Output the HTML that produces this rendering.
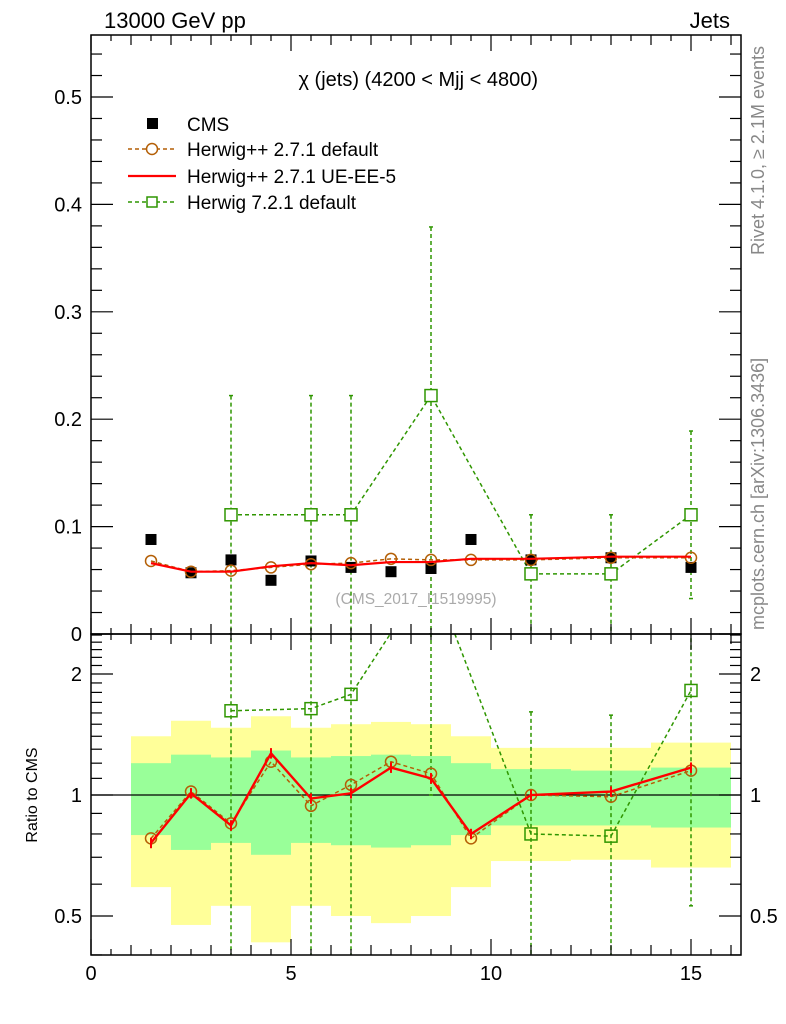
<!DOCTYPE html>
<html><head><meta charset="utf-8"><style>
body{margin:0;background:#fff}
svg{display:block;font-family:"Liberation Sans",sans-serif}
</style></head><body>
<svg id="c" width="786" height="1024" xmlns="http://www.w3.org/2000/svg">
<text x="104" y="28" font-size="22">13000 GeV pp</text>
<text x="730" y="28" font-size="22" text-anchor="end">Jets</text>
<text x="538" y="86" font-size="20" text-anchor="end">χ (jets) (4200 &lt; Mjj &lt; 4800)</text>
<text transform="translate(764,255) rotate(-90)" font-size="18" fill="#888">Rivet 4.1.0, ≥ 2.1M events</text>
<text transform="translate(764,630) rotate(-90)" font-size="18" fill="#888">mcplots.cern.ch [arXiv:1306.3436]</text>
<text x="416" y="604" font-size="15.5" fill="#aaa" text-anchor="middle">(CMS_2017_I1519995)</text>
<text transform="translate(37,795) rotate(-90)" font-size="16" text-anchor="middle">Ratio to CMS</text>
<g id="bands"></g><g id="grid"></g><g id="marks"></g><g id="axes"></g>
<g font-size="19">
<rect x="147" y="118" width="11" height="11" fill="#000"/>
<text x="187" y="131">CMS</text>
<line x1="128" y1="149" x2="176" y2="149" stroke="#b45f06" stroke-width="1.5" stroke-dasharray="4,3"/><circle cx="152" cy="149" r="5.5" fill="#fff" stroke="#b45f06" stroke-width="1.5"/>
<text x="187" y="156">Herwig++ 2.7.1 default</text>
<line x1="128" y1="176" x2="176" y2="176" stroke="#f00" stroke-width="2.2"/>
<text x="187" y="183">Herwig++ 2.7.1 UE-EE-5</text>
<line x1="128" y1="202" x2="176" y2="202" stroke="#2f9600" stroke-width="1.5" stroke-dasharray="4,3"/><rect x="147" y="197" width="10" height="10" fill="#fff" stroke="#2f9600" stroke-width="1.5"/>
<text x="187" y="209">Herwig 7.2.1 default</text>
</g>
</svg>
<script>
const edges=[1,2,3,4,5,6,7,8,9,10,12,14,16];
const xc=[1.5,2.5,3.5,4.5,5.5,6.5,7.5,8.5,9.5,11,13,15];
const cms=[0.088,0.057,0.069,0.050,0.068,0.062,0.058,0.061,0.088,0.069,0.071,0.062];
const hppDef=[0.068,0.058,0.059,0.062,0.065,0.066,0.070,0.069,0.069,0.069,0.071,0.071];
const hppUE=[0.066,0.058,0.058,0.063,0.066,0.064,0.067,0.067,0.070,0.070,0.072,0.072];
const h7x=[3.5,5.5,6.5,8.5,11,13,15];
const h7=[0.111,0.111,0.111,0.222,0.056,0.056,0.111];
const h7up=[0.222,0.222,0.222,0.379,0.111,0.111,0.189];
const h7dn=[0,0,0,0,0,0,0.033];
const rDef=[0.78,1.02,0.85,1.21,0.94,1.06,1.21,1.13,0.78,1.0,0.99,1.15];
const rUE=[0.76,1.01,0.84,1.27,0.98,1.01,1.17,1.10,0.80,1.0,1.02,1.17];
const rH7=[1.62,1.64,1.78,3.6,0.80,0.79,1.82];
const rH7up=[3,3,3,5,1.61,1.58,3];
const rH7dn=[0.3,0.3,0.3,1,0.3,0.3,0.53];
const yelHi=[1.40,1.53,1.47,1.57,1.47,1.50,1.52,1.50,1.40,1.31,1.31,1.35];
const yelLo=[0.59,0.475,0.53,0.43,0.53,0.50,0.48,0.50,0.59,0.685,0.69,0.66];
const grnHi=[1.20,1.26,1.24,1.29,1.24,1.25,1.26,1.25,1.20,1.16,1.15,1.17];
const grnLo=[0.795,0.73,0.76,0.71,0.76,0.75,0.74,0.75,0.795,0.84,0.84,0.83];
const xTicks=[0,5,10,15];
const yTicks=[0,0.1,0.2,0.3,0.4,0.5];
const rTicks=[0.5,1,2];

const NS='http://www.w3.org/2000/svg';
const L=91,R=741,T=35,M=634,B=955;
const X=v=>L+v*40;
const Y=v=>M-v*1074;
const RY=r=>795-121*Math.log2(r);
function mk(p,t,a){const e=document.createElementNS(NS,t);for(const k in a)e.setAttribute(k,a[k]);document.getElementById(p).appendChild(e);return e;}

for(let i=0;i<xc.length;i++){
 let e=mk('bands','rect',{x:X(edges[i]),y:RY(yelHi[i]),width:X(edges[i+1])-X(edges[i]),height:RY(yelLo[i])-RY(yelHi[i]),fill:'#ffff99'});
 
 
 e=mk('bands','rect',{x:X(edges[i]),y:RY(grnHi[i]),width:X(edges[i+1])-X(edges[i]),height:RY(grnLo[i])-RY(grnHi[i]),fill:'#99ff99'});
 
 
}
mk('grid','line',{x1:L,x2:R,y1:RY(1),y2:RY(1),stroke:'#000','stroke-width':1.2});

const defs=mk('c','defs',{});
defs.innerHTML='<clipPath id="cm"><rect x="91" y="35" width="650" height="599"/></clipPath><clipPath id="cr"><rect x="91" y="634" width="650" height="321"/></clipPath>';
const gm=mk('marks','g',{'clip-path':'url(#cm)'});gm.id='gm';
const gr=mk('marks','g',{'clip-path':'url(#cr)'});gr.id='gr';

function poly(g,xs,ys,st){return mk(g,'polyline',Object.assign({points:xs.map((x,i)=>x+','+ys[i]).join(' '),fill:'none'},st));}
const GC='#2f9600',BC='#b45f06';
const GS={stroke:GC,'stroke-width':1.5,'stroke-dasharray':'4,3'};
const BS={stroke:BC,'stroke-width':1.5,'stroke-dasharray':'4,3'};
for(let i=0;i<h7x.length;i++){
 const e=mk('gm','line',Object.assign({x1:X(h7x[i]),x2:X(h7x[i]),y1:Y(h7up[i]),y2:Y(h7dn[i])},GS));
 
 
 mk('gm','line',{x1:X(h7x[i])-2,x2:X(h7x[i])+2,y1:Y(h7up[i]),y2:Y(h7up[i]),stroke:GC,'stroke-width':1.5});
 mk('gm','line',{x1:X(h7x[i])-2,x2:X(h7x[i])+2,y1:Y(h7dn[i]),y2:Y(h7dn[i]),stroke:GC,'stroke-width':1.5});
}
let p=poly('gm',h7x.map(X),h7.map(Y),GS);
p=poly('gm',xc.map(X),hppDef.map(Y),BS);
for(let i=0;i<xc.length;i++){const e=mk('gm','rect',{x:X(xc[i])-5.5,y:Y(cms[i])-5.5,width:11,height:11,fill:'#000'});
 
 }
for(let i=0;i<xc.length;i++){const e=mk('gm','circle',{cx:X(xc[i]),cy:Y(hppDef[i]),r:5.5,fill:'none',stroke:BC,'stroke-width':1.5});
 
 }
p=poly('gm',xc.map(X),hppUE.map(Y),{stroke:'#f00','stroke-width':2.2});
for(let i=0;i<h7x.length;i++){const e=mk('gm','rect',{x:X(h7x[i])-6,y:Y(h7[i])-6,width:12,height:12,fill:'#fff',stroke:GC,'stroke-width':1.5});
 
 }
for(let i=0;i<h7x.length;i++){
 const e=mk('gr','line',Object.assign({x1:X(h7x[i]),x2:X(h7x[i]),y1:RY(rH7up[i]),y2:RY(rH7dn[i])},GS));
 
 
 mk('gr','line',{x1:X(h7x[i])-2,x2:X(h7x[i])+2,y1:RY(rH7up[i]),y2:RY(rH7up[i]),stroke:GC,'stroke-width':1.5});
 mk('gr','line',{x1:X(h7x[i])-2,x2:X(h7x[i])+2,y1:RY(rH7dn[i]),y2:RY(rH7dn[i]),stroke:GC,'stroke-width':1.5});
}
p=poly('gr',h7x.map(X),rH7.map(RY),GS);
p=poly('gr',xc.map(X),rDef.map(RY),BS);
for(let i=0;i<xc.length;i++){const e=mk('gr','circle',{cx:X(xc[i]),cy:RY(rDef[i]),r:5.5,fill:'none',stroke:BC,'stroke-width':1.5});
 
 }
p=poly('gr',xc.map(X),rUE.map(RY),{stroke:'#f00','stroke-width':2.4});
for(let i=0;i<xc.length;i++){const e=mk('gr','line',{x1:X(xc[i]),x2:X(xc[i]),y1:RY(rUE[i]*1.03),y2:RY(rUE[i]*0.97),stroke:'#f00','stroke-width':2});
 
 }
for(let i=0;i<h7x.length;i++){const e=mk('gr','rect',{x:X(h7x[i])-6,y:RY(rH7[i])-6,width:12,height:12,fill:'none',stroke:GC,'stroke-width':1.5});
 
 }

let f=mk('axes','rect',{x:L,y:T,width:R-L,height:M-T,fill:'none',stroke:'#000','stroke-width':1.5});

f=mk('axes','rect',{x:L,y:M,width:R-L,height:B-M,fill:'none',stroke:'#000','stroke-width':1.5});

const A={stroke:'#000','stroke-width':1.2};
for(let v=0;v<=16;v+=0.5){
 const maj=v%5===0, int=v%1===0;
 const l=maj?16:int?10:6;
 [T,M,B].forEach(y0=>{
  if(y0!==T) mk('axes','line',Object.assign({x1:X(v),x2:X(v),y1:y0,y2:y0-l},A));
  if(y0!==B) mk('axes','line',Object.assign({x1:X(v),x2:X(v),y1:y0,y2:y0+l},A));
 });
}
xTicks.forEach(v=>{const t=mk('axes','text',{x:X(v),y:980,'font-size':20,'text-anchor':'middle'});t.textContent=v;
 
 });
for(let k=0;k<=27;k++){const v=k*0.02;const y=Y(v);if(y<T)break;const maj=k%5===0;const l=maj?22:11;
 mk('axes','line',Object.assign({x1:L,x2:L+l,y1:y,y2:y},A));mk('axes','line',Object.assign({x1:R,x2:R-l,y1:y,y2:y},A));}
yTicks.forEach(v=>{const t=mk('axes','text',{x:82,y:Y(v)+7,'font-size':20,'text-anchor':'end'});t.textContent=v===0?'0':String(v);
 
 });
for(let k=4;k<=25;k++){const r=k/10;const y=RY(r);if(y<M||y>B)continue;const maj=(k===5||k===10||k===20);const l=maj?22:11;
 mk('axes','line',Object.assign({x1:L,x2:L+l,y1:y,y2:y},A));mk('axes','line',Object.assign({x1:R,x2:R-l,y1:y,y2:y},A));}
rTicks.forEach(v=>{[[82,'end'],[750,'start']].forEach(([x,a])=>{const t=mk('axes','text',{x:x,y:RY(v)+7,'font-size':20,'text-anchor':a});t.textContent=String(v);
 
 });});
</script>
</body></html>
